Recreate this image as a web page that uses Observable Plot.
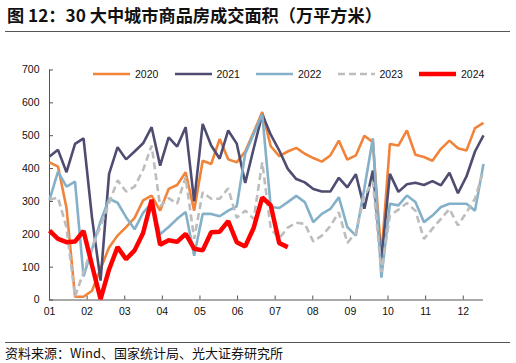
<!DOCTYPE html>
<html><head><meta charset="utf-8">
<script src="https://cdn.jsdelivr.net/npm/d3@7"></script>
<script src="https://cdn.jsdelivr.net/npm/@observablehq/plot@0.6"></script>
<style>
body{margin:0;background:#fff;}
#wrap{position:relative;width:516px;height:363px;overflow:hidden;font-family:"Liberation Sans",Arial,sans-serif;}
#title{position:absolute;left:5px;top:0;width:505px;height:32px;border-bottom:1px solid #555;box-sizing:border-box;font-family:"Noto Sans CJK SC",sans-serif;font-weight:bold;font-size:17.2px;line-height:30px;padding-left:2px;color:#111;white-space:nowrap;}
#chart{position:absolute;left:0;top:32px;}
#legend{position:absolute;left:93px;top:67px;display:flex;height:14px;align-items:center;}
.item{display:flex;align-items:center;width:81.5px;font-size:10.5px;color:#111;}
.item svg{margin-right:5px;}
#caption{position:absolute;left:5px;top:342px;width:505px;border-top:1px solid #555;font-family:"Noto Sans CJK SC",sans-serif;font-size:13px;line-height:20px;color:#111;white-space:nowrap;}
</style>
</head><body>
<div id="wrap">
  <div id="title">图 12：30 大中城市商品房成交面积（万平方米）</div>
  <div id="chart"></div>
  <div id="legend"></div>
  <div id="caption">资料来源：Wind、国家统计局、光大证券研究所</div>
</div>
<script>
const years = ["2020", "2021", "2022", "2023", "2024"];
const colors = ["#F0843A", "#4F4C72", "#84B1C9", "#BDBDBD", "#FF0000"];
const widths = [2.6, 2.6, 2.6, 2.6, 4.5];
const dashes = [null, null, null, "7,4", null];

const monthLabels = ["01","02","03","04","05","06","07","08","09","10","11","12"];
const weeksPerMonthTick = 4.42;
const yTicks = [0, 100, 200, 300, 400, 500, 600, 700];

const s2020 = [419, 406, 280, 10, 10, 28, 95, 160, 196, 222, 250, 303, 318, 272, 338, 350, 389, 272, 424, 414, 490, 428, 419, 452, 511, 572, 468, 438, 452, 463, 445, 432, 421, 440, 485, 427, 440, 500, 480, 130, 475, 470, 516, 442, 435, 424, 460, 485, 462, 455, 523, 539];
const s2021 = [437, 457, 389, 475, 492, 250, 59, 384, 465, 428, 452, 477, 526, 409, 495, 467, 526, 300, 536, 470, 430, 516, 476, 356, 462, 565, 503, 455, 399, 368, 358, 338, 330, 330, 372, 343, 383, 278, 394, 120, 384, 329, 352, 357, 350, 362, 349, 387, 325, 376, 452, 501];
const s2022 = [305, 391, 345, 360, 72, 155, 240, 308, 296, 252, 215, 265, 295, 200, 222, 247, 268, 135, 262, 262, 255, 272, 285, 445, 505, 565, 283, 280, 298, 317, 298, 237, 262, 277, 313, 222, 196, 340, 492, 68, 293, 288, 318, 298, 237, 257, 283, 293, 293, 293, 272, 414];
const s2023 = [305, 312, 220, 10, 85, 160, 225, 295, 364, 330, 345, 396, 470, 285, 310, 293, 374, 186, 328, 308, 308, 340, 250, 272, 247, 419, 217, 188, 220, 235, 232, 178, 196, 225, 267, 174, 205, 318, 359, 85, 257, 275, 295, 272, 186, 217, 247, 277, 227, 267, 308, 394];
const s2024 = [211, 186, 176, 178, 210, 105, 3, 93, 161, 124, 151, 204, 305, 168, 182, 177, 201, 156, 151, 206, 208, 240, 176, 163, 220, 312, 288, 173, 161];

const seriesValues = [s2020, s2021, s2022, s2023, s2024];
const monthPos = monthLabels.map((m, i) => i * weeksPerMonthTick);

const lineMarks = seriesValues.map((vals, k) => Plot.line(vals, {
  x: (d, i) => i, y: d => d,
  stroke: colors[k], strokeWidth: widths[k],
  strokeDasharray: dashes[k] || undefined,
  strokeLinejoin: "miter", strokeLinecap: "butt"
}));

const chart = Plot.plot({
  width: 516, height: 298,
  marginLeft: 49, marginRight: 33, marginTop: 37.5, marginBottom: 30.5,
  x: {domain: [0, 51]},
  y: {domain: [0, 700]},
  style: {fontFamily: "Liberation Sans, Arial, sans-serif", fontSize: "10.5px", color: "#111", background: "transparent", overflow: "visible"},
  marks: [
    Plot.axisY({ticks: yTicks, tickSize: 0, tickPadding: 10, label: null, fontSize: 10.5}),
    Plot.axisY({ticks: yTicks, tickSize: -4, tickFormat: () => "", label: null, stroke: "#555"}),
    Plot.axisX({ticks: monthPos, tickSize: 0, tickPadding: 8, label: null, fontSize: 10.5,
      tickFormat: d => monthLabels[Math.round(d / weeksPerMonthTick)]}),
    Plot.axisX({ticks: monthPos, tickSize: -4, tickFormat: () => "", label: null, stroke: "#555"}),
    Plot.ruleX([0], {stroke: "#555", strokeWidth: 1}),
    Plot.ruleY([0], {stroke: "#555", strokeWidth: 1}),
    ...lineMarks
  ]
});
document.getElementById("chart").appendChild(chart);

const legend = document.getElementById("legend");
years.forEach((y, k) => {
  const item = document.createElement("div");
  item.className = "item";
  item.innerHTML = `<svg width="37" height="8"><line x1="0" y1="4" x2="37" y2="4" stroke="${colors[k]}" stroke-width="${widths[k]}" ${dashes[k] ? `stroke-dasharray="${dashes[k]}"` : ""}/></svg><span>${y}</span>`;
  legend.appendChild(item);
});
</script>
</body></html>
